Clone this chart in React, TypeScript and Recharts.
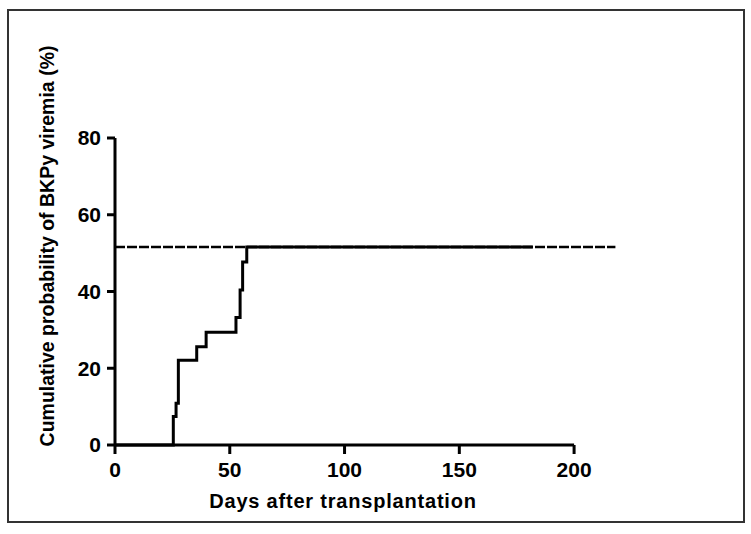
import React from 'react';
import { LineChart, Line, XAxis, YAxis, ReferenceLine, Customized } from 'recharts';

const stepDays = [0, 25.4, 26.6, 27.6, 35.6, 39.7, 52.7, 54.5, 55.6, 57.4, 182];
const stepValues = [0, 7.4, 10.9, 22.1, 25.6, 29.4, 33.2, 40.4, 47.7, 51.6, 51.6];
const dashDays = [0, 218];
const dashValues = [51.6, 51.6];
const xTicks = [0, 50, 100, 150, 200];
const yTicks = [0, 20, 40, 60, 80];
const xTitle = 'Days after transplantation';
const yTitle = 'Cumulative probability of BKPy viremia (%)';

const stepData = stepDays.map((d, i) => ({ day: d, solid: stepValues[i] }));
const dashData = dashDays.map((d, i) => ({ day: d, dashed: dashValues[i] }));

const FONT = '"Liberation Sans", Arial, sans-serif';
const TICK_SIZE = 21;

const Titles = () => (
  <g>
    <text
      x={343}
      y={508}
      textAnchor="middle"
      fontFamily={FONT}
      fontWeight="bold"
      fontSize={20}
      letterSpacing={0.8}
      fill="#000"
    >
      {xTitle}
    </text>
    <text
      x={47}
      y={246}
      transform="rotate(-90,47,246)"
      textAnchor="middle"
      dominantBaseline="central"
      fontFamily={FONT}
      fontWeight="bold"
      fontSize={19.5}
      fill="#000"
    >
      {yTitle}
    </text>
  </g>
);

const XTick = (props: any) => {
  const { x, y, payload } = props;
  return (
    <text
      x={x}
      y={y}
      dy="0.71em"
      textAnchor="middle"
      fontFamily={FONT}
      fontWeight="bold"
      fontSize={TICK_SIZE}
      fill="#000"
    >
      {payload.value}
    </text>
  );
};

const YTick = (props: any) => {
  const { x, y, payload } = props;
  return (
    <text
      x={x}
      y={y}
      dy="0.355em"
      textAnchor="end"
      fontFamily={FONT}
      fontWeight="bold"
      fontSize={TICK_SIZE}
      fill="#000"
    >
      {payload.value}
    </text>
  );
};

export default function App() {
  return (
    <div style={{ position: 'absolute', left: 0, top: 0, width: 751, height: 534, background: '#fff' }}>
      <div
        style={{
          position: 'absolute',
          left: 7,
          top: 9,
          width: 734,
          height: 510,
          border: '2px solid #333',
        }}
      />
      <div style={{ position: 'absolute', left: 0, top: 0 }}>
        <LineChart width={751} height={534} margin={{ top: 138, right: 131, bottom: 49, left: 55 }}>
          <XAxis
            dataKey="day"
            type="number"
            domain={[0, 220]}
            ticks={xTicks}
            axisLine={false}
            tickLine={{ stroke: '#000', strokeWidth: 3 }}
            tickSize={9}
            tickMargin={8}
            height={40}
            tick={<XTick />}
            allowDuplicatedCategory={false}
          />
          <YAxis
            type="number"
            domain={[0, 80]}
            ticks={yTicks}
            width={60}
            axisLine={{ stroke: '#000', strokeWidth: 3 }}
            tickLine={{ stroke: '#000', strokeWidth: 3 }}
            tickSize={8}
            tickMargin={6}
            tick={<YTick />}
          />
          <ReferenceLine
            segment={[{ x: 0, y: 0 }, { x: 200, y: 0 }]}
            stroke="#000"
            strokeWidth={3}
          />
          <Line
            data={dashData}
            dataKey="dashed"
            type="linear"
            stroke="#000"
            strokeWidth={2.5}
            strokeDasharray="10 2"
            dot={false}
            isAnimationActive={false}
          />
          <Line
            data={stepData}
            dataKey="solid"
            type="stepAfter"
            stroke="#000"
            strokeWidth={3}
            dot={false}
            isAnimationActive={false}
          />
          <Customized component={Titles} />
        </LineChart>
      </div>
    </div>
  );
}
